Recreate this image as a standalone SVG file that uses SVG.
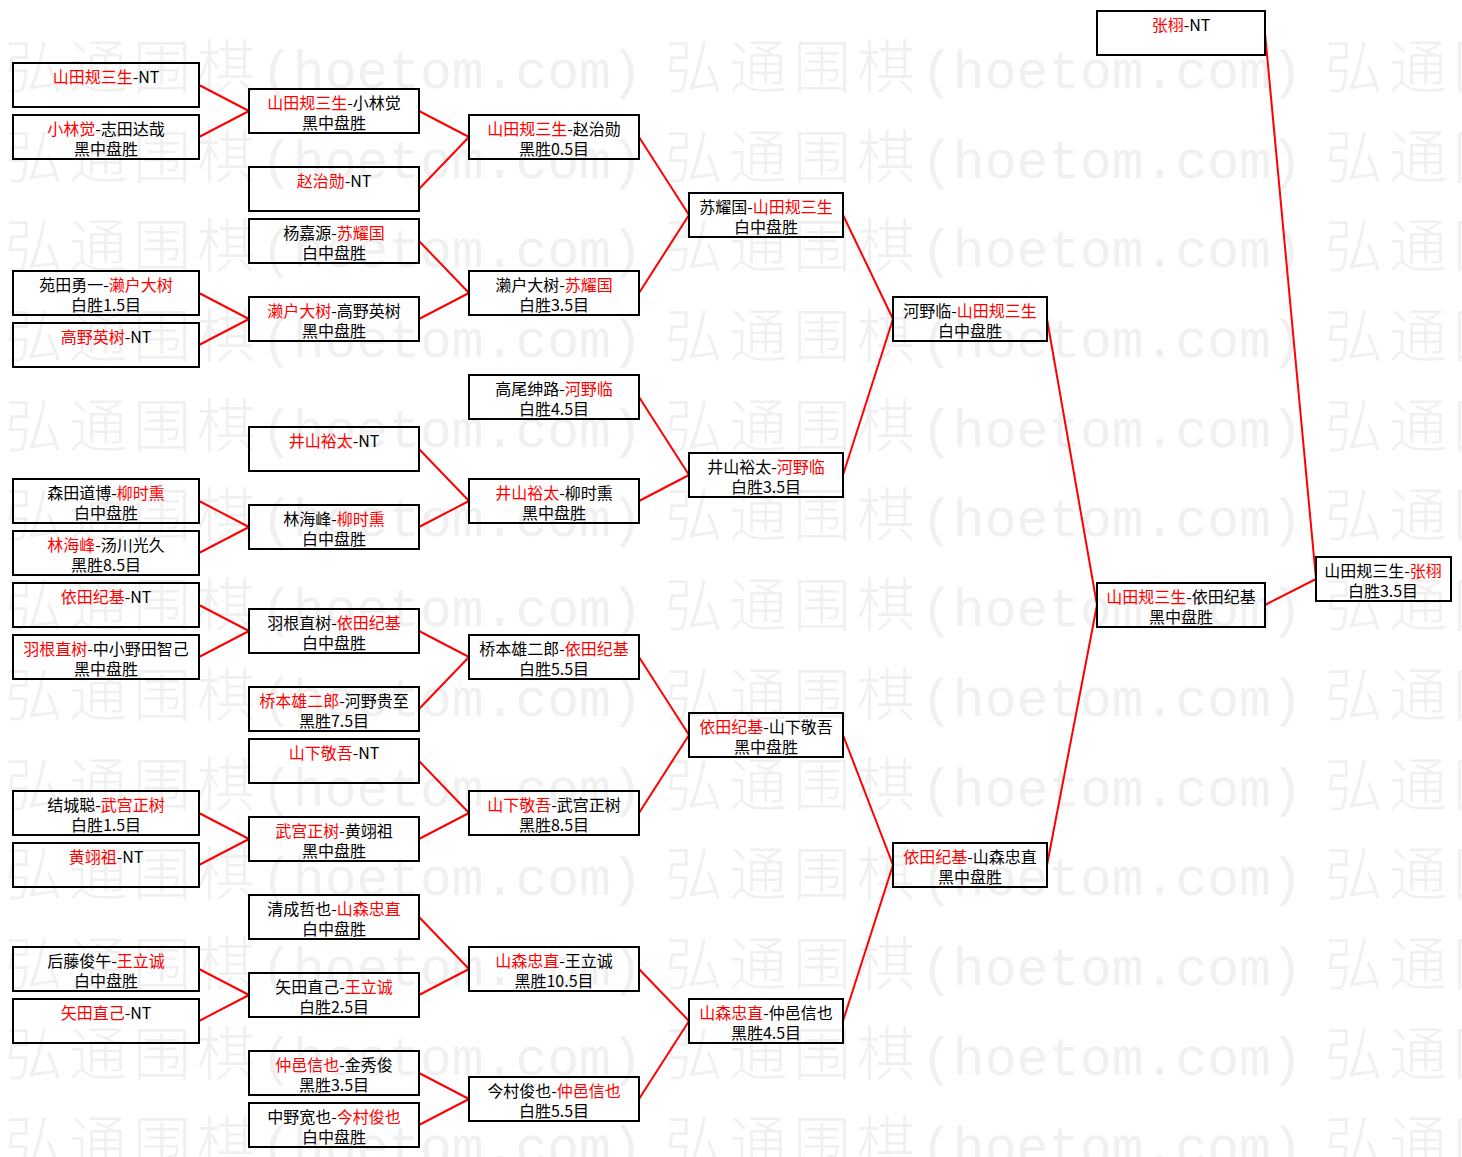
<svg xmlns="http://www.w3.org/2000/svg" width="1462" height="1157" viewBox="0 0 1462 1157">
<style>
.bg{fill:#ffffff}
.wm{fill:#f0f0f0}
.wc{font-family:"Noto Sans CJK SC","Liberation Serif",serif;font-size:58px;font-weight:300;letter-spacing:6px}
.wa{font-family:"Liberation Mono",monospace;font-size:53px;font-weight:normal;letter-spacing:0}
.box{fill:none;stroke:#000;stroke-width:2}
.t{font-family:"Noto Sans CJK SC","Liberation Sans",sans-serif;font-size:16px;text-anchor:middle;fill:#000}
.r{fill:#ff0000}
.ln{stroke:#ff0000;stroke-width:2;fill:none}
</style>
<rect class="bg" x="0" y="0" width="1462" height="1157"/>
<g id="watermark" class="wm">
<text x="5" y="88"><tspan class="wc">弘通围棋</tspan><tspan class="wa">(hoetom.com)</tspan></text>
<text x="665" y="88"><tspan class="wc">弘通围棋</tspan><tspan class="wa">(hoetom.com)</tspan></text>
<text x="1325" y="88"><tspan class="wc">弘通围棋</tspan><tspan class="wa">(hoetom.com)</tspan></text>
<text x="5" y="178"><tspan class="wc">弘通围棋</tspan><tspan class="wa">(hoetom.com)</tspan></text>
<text x="665" y="178"><tspan class="wc">弘通围棋</tspan><tspan class="wa">(hoetom.com)</tspan></text>
<text x="1325" y="178"><tspan class="wc">弘通围棋</tspan><tspan class="wa">(hoetom.com)</tspan></text>
<text x="5" y="267"><tspan class="wc">弘通围棋</tspan><tspan class="wa">(hoetom.com)</tspan></text>
<text x="665" y="267"><tspan class="wc">弘通围棋</tspan><tspan class="wa">(hoetom.com)</tspan></text>
<text x="1325" y="267"><tspan class="wc">弘通围棋</tspan><tspan class="wa">(hoetom.com)</tspan></text>
<text x="5" y="357"><tspan class="wc">弘通围棋</tspan><tspan class="wa">(hoetom.com)</tspan></text>
<text x="665" y="357"><tspan class="wc">弘通围棋</tspan><tspan class="wa">(hoetom.com)</tspan></text>
<text x="1325" y="357"><tspan class="wc">弘通围棋</tspan><tspan class="wa">(hoetom.com)</tspan></text>
<text x="5" y="447"><tspan class="wc">弘通围棋</tspan><tspan class="wa">(hoetom.com)</tspan></text>
<text x="665" y="447"><tspan class="wc">弘通围棋</tspan><tspan class="wa">(hoetom.com)</tspan></text>
<text x="1325" y="447"><tspan class="wc">弘通围棋</tspan><tspan class="wa">(hoetom.com)</tspan></text>
<text x="5" y="536"><tspan class="wc">弘通围棋</tspan><tspan class="wa">(hoetom.com)</tspan></text>
<text x="665" y="536"><tspan class="wc">弘通围棋</tspan><tspan class="wa">(hoetom.com)</tspan></text>
<text x="1325" y="536"><tspan class="wc">弘通围棋</tspan><tspan class="wa">(hoetom.com)</tspan></text>
<text x="5" y="626"><tspan class="wc">弘通围棋</tspan><tspan class="wa">(hoetom.com)</tspan></text>
<text x="665" y="626"><tspan class="wc">弘通围棋</tspan><tspan class="wa">(hoetom.com)</tspan></text>
<text x="1325" y="626"><tspan class="wc">弘通围棋</tspan><tspan class="wa">(hoetom.com)</tspan></text>
<text x="5" y="716"><tspan class="wc">弘通围棋</tspan><tspan class="wa">(hoetom.com)</tspan></text>
<text x="665" y="716"><tspan class="wc">弘通围棋</tspan><tspan class="wa">(hoetom.com)</tspan></text>
<text x="1325" y="716"><tspan class="wc">弘通围棋</tspan><tspan class="wa">(hoetom.com)</tspan></text>
<text x="5" y="806"><tspan class="wc">弘通围棋</tspan><tspan class="wa">(hoetom.com)</tspan></text>
<text x="665" y="806"><tspan class="wc">弘通围棋</tspan><tspan class="wa">(hoetom.com)</tspan></text>
<text x="1325" y="806"><tspan class="wc">弘通围棋</tspan><tspan class="wa">(hoetom.com)</tspan></text>
<text x="5" y="895"><tspan class="wc">弘通围棋</tspan><tspan class="wa">(hoetom.com)</tspan></text>
<text x="665" y="895"><tspan class="wc">弘通围棋</tspan><tspan class="wa">(hoetom.com)</tspan></text>
<text x="1325" y="895"><tspan class="wc">弘通围棋</tspan><tspan class="wa">(hoetom.com)</tspan></text>
<text x="5" y="985"><tspan class="wc">弘通围棋</tspan><tspan class="wa">(hoetom.com)</tspan></text>
<text x="665" y="985"><tspan class="wc">弘通围棋</tspan><tspan class="wa">(hoetom.com)</tspan></text>
<text x="1325" y="985"><tspan class="wc">弘通围棋</tspan><tspan class="wa">(hoetom.com)</tspan></text>
<text x="5" y="1075"><tspan class="wc">弘通围棋</tspan><tspan class="wa">(hoetom.com)</tspan></text>
<text x="665" y="1075"><tspan class="wc">弘通围棋</tspan><tspan class="wa">(hoetom.com)</tspan></text>
<text x="1325" y="1075"><tspan class="wc">弘通围棋</tspan><tspan class="wa">(hoetom.com)</tspan></text>
<text x="5" y="1164"><tspan class="wc">弘通围棋</tspan><tspan class="wa">(hoetom.com)</tspan></text>
<text x="665" y="1164"><tspan class="wc">弘通围棋</tspan><tspan class="wa">(hoetom.com)</tspan></text>
<text x="1325" y="1164"><tspan class="wc">弘通围棋</tspan><tspan class="wa">(hoetom.com)</tspan></text>
</g>
<g id="connectors" class="ln">
<line x1="199" y1="85" x2="249" y2="111"/>
<line x1="199" y1="137" x2="249" y2="111"/>
<line x1="199" y1="293" x2="249" y2="319"/>
<line x1="199" y1="345" x2="249" y2="319"/>
<line x1="199" y1="501" x2="249" y2="527"/>
<line x1="199" y1="553" x2="249" y2="527"/>
<line x1="199" y1="605" x2="249" y2="631"/>
<line x1="199" y1="657" x2="249" y2="631"/>
<line x1="199" y1="813" x2="249" y2="839"/>
<line x1="199" y1="865" x2="249" y2="839"/>
<line x1="199" y1="969" x2="249" y2="995"/>
<line x1="199" y1="1021" x2="249" y2="995"/>
<line x1="419" y1="111" x2="469" y2="137"/>
<line x1="419" y1="189" x2="469" y2="137"/>
<line x1="419" y1="241" x2="469" y2="293"/>
<line x1="419" y1="319" x2="469" y2="293"/>
<line x1="419" y1="449" x2="469" y2="501"/>
<line x1="419" y1="527" x2="469" y2="501"/>
<line x1="419" y1="631" x2="469" y2="657"/>
<line x1="419" y1="709" x2="469" y2="657"/>
<line x1="419" y1="761" x2="469" y2="813"/>
<line x1="419" y1="839" x2="469" y2="813"/>
<line x1="419" y1="917" x2="469" y2="969"/>
<line x1="419" y1="995" x2="469" y2="969"/>
<line x1="419" y1="1073" x2="469" y2="1099"/>
<line x1="419" y1="1125" x2="469" y2="1099"/>
<line x1="639" y1="137" x2="689" y2="215"/>
<line x1="639" y1="293" x2="689" y2="215"/>
<line x1="639" y1="397" x2="689" y2="475"/>
<line x1="639" y1="501" x2="689" y2="475"/>
<line x1="639" y1="657" x2="689" y2="735"/>
<line x1="639" y1="813" x2="689" y2="735"/>
<line x1="639" y1="969" x2="689" y2="1021"/>
<line x1="639" y1="1099" x2="689" y2="1021"/>
<line x1="843" y1="215" x2="893" y2="319"/>
<line x1="843" y1="475" x2="893" y2="319"/>
<line x1="843" y1="735" x2="893" y2="865"/>
<line x1="843" y1="1021" x2="893" y2="865"/>
<line x1="1047" y1="319" x2="1097" y2="605"/>
<line x1="1047" y1="865" x2="1097" y2="605"/>
<line x1="1265" y1="33" x2="1316" y2="579"/>
<line x1="1265" y1="605" x2="1316" y2="579"/>
</g>
<!-- Column 1 -->
<g id="n1-1"><rect class="box" x="13" y="63" width="186" height="44"/><text class="t" x="106" y="83"><tspan class="r">山田规三生</tspan>-NT</text></g>
<g id="n1-2"><rect class="box" x="13" y="115" width="186" height="44"/><text class="t" x="106" y="135"><tspan class="r">小林觉</tspan>-志田达哉</text><text class="t" x="106" y="155">黑中盘胜</text></g>
<g id="n1-3"><rect class="box" x="13" y="271" width="186" height="44"/><text class="t" x="106" y="291">苑田勇一-<tspan class="r">濑户大树</tspan></text><text class="t" x="106" y="311">白胜1.5目</text></g>
<g id="n1-4"><rect class="box" x="13" y="323" width="186" height="44"/><text class="t" x="106" y="343"><tspan class="r">高野英树</tspan>-NT</text></g>
<g id="n1-5"><rect class="box" x="13" y="479" width="186" height="44"/><text class="t" x="106" y="499">森田道博-<tspan class="r">柳时熏</tspan></text><text class="t" x="106" y="519">白中盘胜</text></g>
<g id="n1-6"><rect class="box" x="13" y="531" width="186" height="44"/><text class="t" x="106" y="551"><tspan class="r">林海峰</tspan>-汤川光久</text><text class="t" x="106" y="571">黑胜8.5目</text></g>
<g id="n1-7"><rect class="box" x="13" y="583" width="186" height="44"/><text class="t" x="106" y="603"><tspan class="r">依田纪基</tspan>-NT</text></g>
<g id="n1-8"><rect class="box" x="13" y="635" width="186" height="44"/><text class="t" x="106" y="655"><tspan class="r">羽根直树</tspan>-中小野田智己</text><text class="t" x="106" y="675">黑中盘胜</text></g>
<g id="n1-9"><rect class="box" x="13" y="791" width="186" height="44"/><text class="t" x="106" y="811">结城聪-<tspan class="r">武宫正树</tspan></text><text class="t" x="106" y="831">白胜1.5目</text></g>
<g id="n1-10"><rect class="box" x="13" y="843" width="186" height="44"/><text class="t" x="106" y="863"><tspan class="r">黄翊祖</tspan>-NT</text></g>
<g id="n1-11"><rect class="box" x="13" y="947" width="186" height="44"/><text class="t" x="106" y="967">后藤俊午-<tspan class="r">王立诚</tspan></text><text class="t" x="106" y="987">白中盘胜</text></g>
<g id="n1-12"><rect class="box" x="13" y="999" width="186" height="44"/><text class="t" x="106" y="1019"><tspan class="r">矢田直己</tspan>-NT</text></g>
<!-- Column 2 -->
<g id="n2-1"><rect class="box" x="249" y="89" width="170" height="44"/><text class="t" x="334" y="109"><tspan class="r">山田规三生</tspan>-小林觉</text><text class="t" x="334" y="129">黑中盘胜</text></g>
<g id="n2-2"><rect class="box" x="249" y="167" width="170" height="44"/><text class="t" x="334" y="187"><tspan class="r">赵治勋</tspan>-NT</text></g>
<g id="n2-3"><rect class="box" x="249" y="219" width="170" height="44"/><text class="t" x="334" y="239">杨嘉源-<tspan class="r">苏耀国</tspan></text><text class="t" x="334" y="259">白中盘胜</text></g>
<g id="n2-4"><rect class="box" x="249" y="297" width="170" height="44"/><text class="t" x="334" y="317"><tspan class="r">濑户大树</tspan>-高野英树</text><text class="t" x="334" y="337">黑中盘胜</text></g>
<g id="n2-5"><rect class="box" x="249" y="427" width="170" height="44"/><text class="t" x="334" y="447"><tspan class="r">井山裕太</tspan>-NT</text></g>
<g id="n2-6"><rect class="box" x="249" y="505" width="170" height="44"/><text class="t" x="334" y="525">林海峰-<tspan class="r">柳时熏</tspan></text><text class="t" x="334" y="545">白中盘胜</text></g>
<g id="n2-7"><rect class="box" x="249" y="609" width="170" height="44"/><text class="t" x="334" y="629">羽根直树-<tspan class="r">依田纪基</tspan></text><text class="t" x="334" y="649">白中盘胜</text></g>
<g id="n2-8"><rect class="box" x="249" y="687" width="170" height="44"/><text class="t" x="334" y="707"><tspan class="r">桥本雄二郎</tspan>-河野贵至</text><text class="t" x="334" y="727">黑胜7.5目</text></g>
<g id="n2-9"><rect class="box" x="249" y="739" width="170" height="44"/><text class="t" x="334" y="759"><tspan class="r">山下敬吾</tspan>-NT</text></g>
<g id="n2-10"><rect class="box" x="249" y="817" width="170" height="44"/><text class="t" x="334" y="837"><tspan class="r">武宫正树</tspan>-黄翊祖</text><text class="t" x="334" y="857">黑中盘胜</text></g>
<g id="n2-11"><rect class="box" x="249" y="895" width="170" height="44"/><text class="t" x="334" y="915">清成哲也-<tspan class="r">山森忠直</tspan></text><text class="t" x="334" y="935">白中盘胜</text></g>
<g id="n2-12"><rect class="box" x="249" y="973" width="170" height="44"/><text class="t" x="334" y="993">矢田直己-<tspan class="r">王立诚</tspan></text><text class="t" x="334" y="1013">白胜2.5目</text></g>
<g id="n2-13"><rect class="box" x="249" y="1051" width="170" height="44"/><text class="t" x="334" y="1071"><tspan class="r">仲邑信也</tspan>-金秀俊</text><text class="t" x="334" y="1091">黑胜3.5目</text></g>
<g id="n2-14"><rect class="box" x="249" y="1103" width="170" height="44"/><text class="t" x="334" y="1123">中野宽也-<tspan class="r">今村俊也</tspan></text><text class="t" x="334" y="1143">白中盘胜</text></g>
<!-- Column 3 -->
<g id="n3-1"><rect class="box" x="469" y="115" width="170" height="44"/><text class="t" x="554" y="135"><tspan class="r">山田规三生</tspan>-赵治勋</text><text class="t" x="554" y="155">黑胜0.5目</text></g>
<g id="n3-2"><rect class="box" x="469" y="271" width="170" height="44"/><text class="t" x="554" y="291">濑户大树-<tspan class="r">苏耀国</tspan></text><text class="t" x="554" y="311">白胜3.5目</text></g>
<g id="n3-3"><rect class="box" x="469" y="375" width="170" height="44"/><text class="t" x="554" y="395">高尾绅路-<tspan class="r">河野临</tspan></text><text class="t" x="554" y="415">白胜4.5目</text></g>
<g id="n3-4"><rect class="box" x="469" y="479" width="170" height="44"/><text class="t" x="554" y="499"><tspan class="r">井山裕太</tspan>-柳时熏</text><text class="t" x="554" y="519">黑中盘胜</text></g>
<g id="n3-5"><rect class="box" x="469" y="635" width="170" height="44"/><text class="t" x="554" y="655">桥本雄二郎-<tspan class="r">依田纪基</tspan></text><text class="t" x="554" y="675">白胜5.5目</text></g>
<g id="n3-6"><rect class="box" x="469" y="791" width="170" height="44"/><text class="t" x="554" y="811"><tspan class="r">山下敬吾</tspan>-武宫正树</text><text class="t" x="554" y="831">黑胜8.5目</text></g>
<g id="n3-7"><rect class="box" x="469" y="947" width="170" height="44"/><text class="t" x="554" y="967"><tspan class="r">山森忠直</tspan>-王立诚</text><text class="t" x="554" y="987">黑胜10.5目</text></g>
<g id="n3-8"><rect class="box" x="469" y="1077" width="170" height="44"/><text class="t" x="554" y="1097">今村俊也-<tspan class="r">仲邑信也</tspan></text><text class="t" x="554" y="1117">白胜5.5目</text></g>
<!-- Column 4 -->
<g id="n4-1"><rect class="box" x="689" y="193" width="154" height="44"/><text class="t" x="766" y="213">苏耀国-<tspan class="r">山田规三生</tspan></text><text class="t" x="766" y="233">白中盘胜</text></g>
<g id="n4-2"><rect class="box" x="689" y="453" width="154" height="44"/><text class="t" x="766" y="473">井山裕太-<tspan class="r">河野临</tspan></text><text class="t" x="766" y="493">白胜3.5目</text></g>
<g id="n4-3"><rect class="box" x="689" y="713" width="154" height="44"/><text class="t" x="766" y="733"><tspan class="r">依田纪基</tspan>-山下敬吾</text><text class="t" x="766" y="753">黑中盘胜</text></g>
<g id="n4-4"><rect class="box" x="689" y="999" width="154" height="44"/><text class="t" x="766" y="1019"><tspan class="r">山森忠直</tspan>-仲邑信也</text><text class="t" x="766" y="1039">黑胜4.5目</text></g>
<!-- Column 5 -->
<g id="n5-1"><rect class="box" x="893" y="297" width="154" height="44"/><text class="t" x="970" y="317">河野临-<tspan class="r">山田规三生</tspan></text><text class="t" x="970" y="337">白中盘胜</text></g>
<g id="n5-2"><rect class="box" x="893" y="843" width="154" height="44"/><text class="t" x="970" y="863"><tspan class="r">依田纪基</tspan>-山森忠直</text><text class="t" x="970" y="883">黑中盘胜</text></g>
<!-- Column 6 -->
<g id="n6-1"><rect class="box" x="1097" y="11" width="168" height="44"/><text class="t" x="1181" y="31"><tspan class="r">张栩</tspan>-NT</text></g>
<g id="n6-2"><rect class="box" x="1097" y="583" width="168" height="44"/><text class="t" x="1181" y="603"><tspan class="r">山田规三生</tspan>-依田纪基</text><text class="t" x="1181" y="623">黑中盘胜</text></g>
<!-- Column 7 -->
<g id="n7-1"><rect class="box" x="1316" y="557" width="135" height="44"/><text class="t" x="1383" y="577">山田规三生-<tspan class="r">张栩</tspan></text><text class="t" x="1383" y="597">白胜3.5目</text></g>
</svg>
